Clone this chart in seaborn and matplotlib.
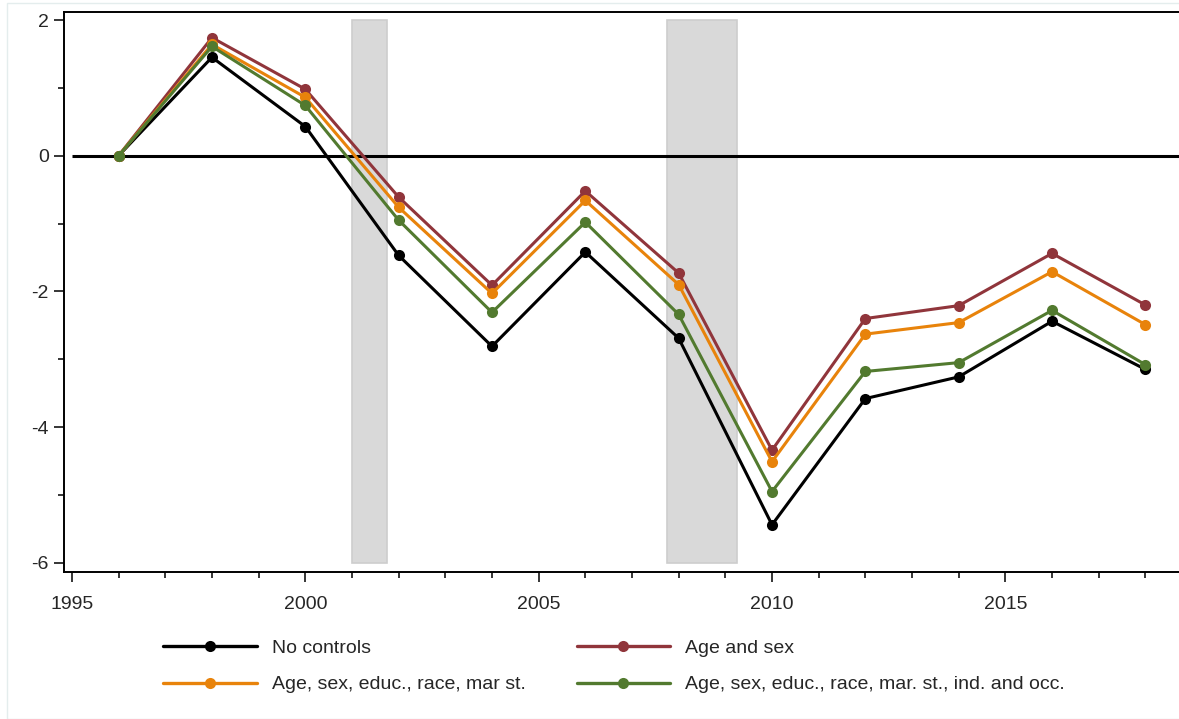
import matplotlib
matplotlib.use("Agg")
import numpy as np
import pandas as pd
import seaborn as sns
from matplotlib import pyplot as plt
from matplotlib.lines import Line2D
from matplotlib.patches import Rectangle


years = [1996, 1998, 2000, 2002, 2004, 2006, 2008, 2010, 2012, 2014, 2016, 2018]

no_controls = [0, 1.45, 0.43, -1.47, -2.81, -1.42, -2.69, -5.44, -3.58, -3.26, -2.44, -3.15]
age_sex = [0, 1.74, 0.98, -0.61, -1.91, -0.52, -1.73, -4.34, -2.40, -2.21, -1.44, -2.20]
age_sex_educ = [0, 1.64, 0.86, -0.76, -2.03, -0.66, -1.90, -4.51, -2.63, -2.46, -1.71, -2.49]
age_sex_educ_ind = [0, 1.61, 0.74, -0.95, -2.31, -0.98, -2.34, -4.95, -3.18, -3.05, -2.28, -3.08]

series_names = ["No controls", "Age and sex", "Age, sex, educ., race, mar st.",
                "Age, sex, educ., race, mar. st., ind. and occ."]
series_colors = ["#000000", "#90353b", "#e8830b", "#527a2f"]

recessions = [(2001.0, 2001.75), (2007.75, 2009.25)]

xticks = [1995, 2000, 2005, 2010, 2015]
yticks = [2, 0, -2, -4, -6]


def long_frame():
    ret = []
    for name, vals in zip(series_names, [no_controls, age_sex, age_sex_educ, age_sex_educ_ind]):
        ret.append(pd.DataFrame({"year": years, "value": vals, "series": name}))
    return pd.concat(ret)


sns.set_style("white")
plt.rcParams['font.family'] = ['Liberation Sans', 'DejaVu Sans']

fig = plt.figure(figsize=(11.79, 7.19), dpi=100)
ax = fig.add_axes([64 / 1179, 1 - 572 / 719, 1 - 64 / 1179, (572 - 12) / 719])

x_lo, x_hi = 1994.83, 2018.72
y_lo, y_hi = -6.136, 2.118

for start, end in recessions:
    ax.add_patch(Rectangle((start, -6), end - start, 8, facecolor="#d9d9d9",
                           edgecolor="#cdcdcd", lw=1.2, zorder=1))

ax.hlines(0, 1995, x_hi, color="black", lw=2.2, zorder=2)

data = long_frame()
sns.lineplot(data=data, x="year", y="value", hue="series", hue_order=series_names,
             palette=series_colors, marker="o", markersize=8, markeredgewidth=0,
             lw=2.2, ax=ax, legend=False, zorder=3)

ax.set_xlim(x_lo, x_hi)
ax.set_ylim(y_lo, y_hi)
ax.set_xlabel("")
ax.set_ylabel("")

ax.set_xticks(xticks)
ax.set_xticks(range(1995, 2019), minor=True)
ax.set_yticks(yticks)
ax.set_yticks([1, -1, -3, -5], minor=True)
ax.set_yticklabels([str(t) for t in yticks])

ax.tick_params(axis="both", which="major", direction="out", length=7, width=1.1,
               color="black", labelsize=14, bottom=True, left=True)
ax.tick_params(axis="x", which="major", pad=10)
ax.tick_params(axis="y", which="major", pad=4)
ax.tick_params(axis="both", which="minor", direction="out", length=4, width=1.1,
               color="black", bottom=True, left=True)

for side in ["left", "bottom", "top"]:
    ax.spines[side].set_visible(True)
    ax.spines[side].set_color("black")
    ax.spines[side].set_linewidth(1.4)
ax.spines["right"].set_visible(False)

# legend: row 1 = black / maroon, row 2 = orange / green
order = [0, 2, 1, 3]
handles = [Line2D([], [], color=series_colors[i], lw=2.4, marker="o", markersize=8,
                  markeredgewidth=0) for i in order]
labels = [series_names[i] for i in order]
fig.legend(handles, labels, loc="center", bbox_to_anchor=(0.521, 0.073), ncol=2,
           frameon=False, fontsize=14, handlelength=4.8, handletextpad=0.8,
           columnspacing=2.6, labelspacing=0.95)

fig.patches.append(Rectangle((7 / 1179, 0), 1, 1 - 3 / 719, transform=fig.transFigure,
                             fill=False, edgecolor="#e4eded", lw=1.0))

fig.savefig("out.png", dpi=100)
